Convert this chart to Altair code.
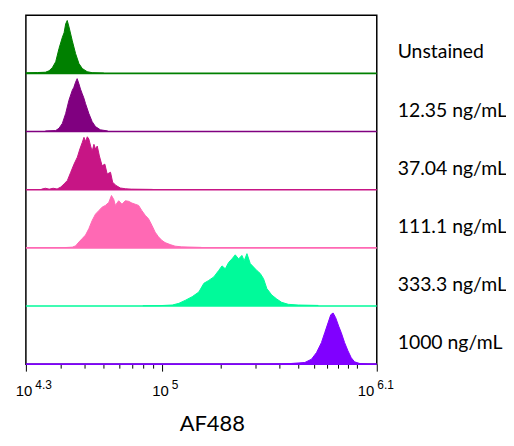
import altair as alt
import pandas as pd

# ---- data ----
names = ["Unstained", "12.35 ng/mL", "37.04 ng/mL", "111.1 ng/mL", "333.3 ng/mL", "1000 ng/mL"]
colors = ["#008000", "#800080", "#C71585", "#FF69B4", "#00FA9A", "#8000FF"]
bases = [5, 4, 3, 2, 1, 0]

# log10(AF488) positions and relative counts (fraction of a row) per sample
unstained_log = [4.300, 4.360, 4.400, 4.419, 4.436, 4.453, 4.470, 4.487, 4.496, 4.504, 4.512, 4.521, 4.538, 4.555, 4.572, 4.589, 4.614, 4.640, 4.700]
unstained_h = [0.01, 0.015, 0.02, 0.045, 0.10, 0.20, 0.43, 0.62, 0.70, 0.85, 0.91, 0.80, 0.56, 0.34, 0.17, 0.085, 0.03, 0.012, 0.005]

c12_log = [4.400, 4.453, 4.470, 4.487, 4.504, 4.521, 4.538, 4.546, 4.555, 4.563, 4.572, 4.580, 4.589, 4.597, 4.606, 4.623, 4.640, 4.657, 4.682, 4.720]
c12_h = [0.01, 0.017, 0.057, 0.14, 0.31, 0.54, 0.71, 0.76, 0.85, 0.91, 0.82, 0.73, 0.65, 0.58, 0.48, 0.31, 0.17, 0.085, 0.03, 0.01]

c37_log = [4.38, 4.40, 4.42, 4.44, 4.46, 4.479, 4.496, 4.513, 4.530, 4.547, 4.564, 4.577, 4.589, 4.598, 4.606, 4.615, 4.623, 4.632, 4.640, 4.649, 4.657, 4.666, 4.677, 4.691, 4.705, 4.717, 4.734, 4.745, 4.762, 4.785, 4.810, 4.84, 4.95]
c37_h = [0.01, 0.025, 0.01, 0.025, 0.012, 0.046, 0.10, 0.16, 0.30, 0.44, 0.56, 0.70, 0.81, 0.90, 0.83, 0.91, 0.87, 0.75, 0.66, 0.78, 0.70, 0.75, 0.58, 0.41, 0.44, 0.27, 0.30, 0.13, 0.073, 0.029, 0.017, 0.01, 0.005]

c111_log = [4.50, 4.538, 4.555, 4.572, 4.589, 4.606, 4.623, 4.640, 4.657, 4.674, 4.691, 4.708, 4.725, 4.739, 4.751, 4.759, 4.776, 4.793, 4.810, 4.827, 4.844, 4.861, 4.878, 4.895, 4.912, 4.929, 4.946, 4.963, 4.980, 4.997, 5.014, 5.040, 5.065, 5.099, 5.20]
c111_h = [0.005, 0.012, 0.034, 0.10, 0.16, 0.22, 0.33, 0.47, 0.58, 0.64, 0.70, 0.73, 0.78, 0.90, 0.83, 0.73, 0.81, 0.75, 0.81, 0.80, 0.77, 0.75, 0.73, 0.64, 0.56, 0.50, 0.39, 0.27, 0.19, 0.13, 0.09, 0.056, 0.029, 0.017, 0.008]

c333_log = [4.90, 4.983, 5.051, 5.085, 5.119, 5.153, 5.187, 5.213, 5.238, 5.264, 5.289, 5.306, 5.323, 5.340, 5.357, 5.374, 5.391, 5.408, 5.420, 5.434, 5.451, 5.468, 5.485, 5.502, 5.519, 5.536, 5.561, 5.587, 5.612, 5.646, 5.697, 5.80]
c333_h = [0.004, 0.006, 0.017, 0.046, 0.10, 0.16, 0.24, 0.39, 0.44, 0.50, 0.61, 0.69, 0.64, 0.75, 0.81, 0.88, 0.81, 0.87, 0.78, 0.90, 0.73, 0.67, 0.61, 0.56, 0.47, 0.30, 0.19, 0.12, 0.063, 0.029, 0.017, 0.01]

c1000_log = [5.55, 5.612, 5.663, 5.731, 5.765, 5.791, 5.816, 5.833, 5.850, 5.864, 5.876, 5.889, 5.905, 5.918, 5.935, 5.952, 5.969, 5.986, 6.012, 6.05]
c1000_h = [0.0, 0.003, 0.012, 0.029, 0.085, 0.20, 0.37, 0.54, 0.71, 0.85, 0.88, 0.80, 0.65, 0.54, 0.37, 0.23, 0.11, 0.04, 0.012, 0.0]

x_min_log, x_max_log = 4.3, 6.1
major_ticks = [10 ** 4.3, 1e5, 10 ** 6.1]
minor_ticks = [3e4, 4e4, 5e4, 6e4, 7e4, 8e4, 9e4, 2e5, 3e5, 4e5, 5e5, 6e5, 7e5, 8e5, 9e5, 1e6]
exponents = ["4.3", "5", "6.1"]

# ---- build tables ----
series = [
    (unstained_log, unstained_h),
    (c12_log, c12_h),
    (c37_log, c37_h),
    (c111_log, c111_h),
    (c333_log, c333_h),
    (c1000_log, c1000_h),
]
rows = []
for name, base, (lg, hh) in zip(names, bases, series):
    for a, b in zip(lg, hh):
        rows.append({"sample": name, "value": 10 ** a, "y": base + b, "base": base})
hist = pd.DataFrame(rows)

base_df = pd.DataFrame({
    "sample": names,
    "base": bases,
    "label_y": [b + 0.36 for b in bases],
    "x0": [10 ** x_min_log] * len(names),
    "x1": [10 ** x_max_log] * len(names),
})

color = alt.Color("sample:N", scale=alt.Scale(domain=names, range=colors), legend=None)
fill = alt.Fill("sample:N", scale=alt.Scale(domain=names, range=colors), legend=None)
xscale = alt.Scale(type="log", domain=[10 ** x_min_log, 10 ** x_max_log], nice=False)
yscale = alt.Scale(domain=[0, 6], nice=False, zero=False)

exp_expr = " : ".join(
    [f"datum.value < {v * 1.01} && datum.value > {v * 0.99} ? '{e}'" for v, e in zip(major_ticks, exponents)]
) + " : ''"

# axis carrying the "10" part of the labels and the title
axis_ten = alt.Axis(
    orient="bottom", values=major_ticks, labelExpr="'10'", ticks=False, domain=False, grid=False,
    labelFont="Liberation Sans", labelFontSize=15, labelColor="#000", labelAlign="right",
    labelPadding=20, labelFlush=False, labelOverlap=False, labelBound=False,
    labelOffset={"condition": {"test": "datum.value > 1100000", "value": -3}, "value": 6},
    title="AF488", titleFont="Lato", titleFontSize=22, titleFontWeight="normal", titleColor="#000",
    titleX=187, titleY=67, titleBaseline="alphabetic", titleAnchor="middle",
)
# axis carrying the superscript exponent
axis_exp = alt.Axis(
    orient="bottom", values=major_ticks, labelExpr=exp_expr, ticks=False, domain=False, grid=False,
    labelFont="Liberation Sans", labelFontSize=12, labelColor="#000", labelAlign="left",
    labelPadding=15, labelFlush=False, labelOverlap=False, labelBound=False,
    labelOffset={"condition": {"test": "datum.value > 1100000", "value": 0}, "value": 9},
    title=None,
)
# axis carrying only the ticks
axis_ticks = alt.Axis(
    orient="bottom", values=major_ticks + minor_ticks, labels=False, domain=False, grid=False,
    tickColor="#000", tickWidth=1,
    tickSize={"condition": {"test": "datum.value < 20000 || (datum.value > 99000 && datum.value < 101000) || datum.value > 1100000", "value": 7}, "value": 4},
    title=None,
)

areas = alt.Chart(hist).mark_area(opacity=1, fillOpacity=1, interpolate="linear").encode(
    x=alt.X("value:Q", scale=xscale, axis=axis_ticks),
    y=alt.Y("y:Q", scale=yscale, axis=None),
    y2="base:Q",
    fill=fill,
    detail="sample:N",
)

rules = alt.Chart(base_df).mark_rule(strokeWidth=1.6).encode(
    x=alt.X("x0:Q", scale=xscale, axis=axis_ten),
    x2="x1:Q",
    y=alt.Y("base:Q", scale=yscale, axis=None),
    color=color,
)

lines = alt.Chart(hist).mark_line(strokeWidth=1).encode(
    x=alt.X("value:Q", scale=xscale, axis=axis_exp),
    y=alt.Y("y:Q", scale=yscale, axis=None),
    color=color,
    detail="sample:N",
)

labels = alt.Chart(base_df).mark_text(
    align="left", baseline="middle", dx=21, font="Lato", fontSize=19.5, color="#000"
).encode(
    x=alt.value(353),
    y=alt.Y("label_y:Q", scale=yscale, axis=None),
    text="sample:N",
)

chart = alt.layer(areas, rules, lines, labels).resolve_scale(x="independent").properties(
    width=353,
    height=351,
    autosize=alt.AutoSizeParams(type="none"),
    padding={"left": 18, "top": 6, "right": 130, "bottom": 75},
    background="white",
).configure_view(stroke="#000", strokeWidth=1.5)

chart.save("out.html", embed_options={"renderer": "svg", "actions": False})
